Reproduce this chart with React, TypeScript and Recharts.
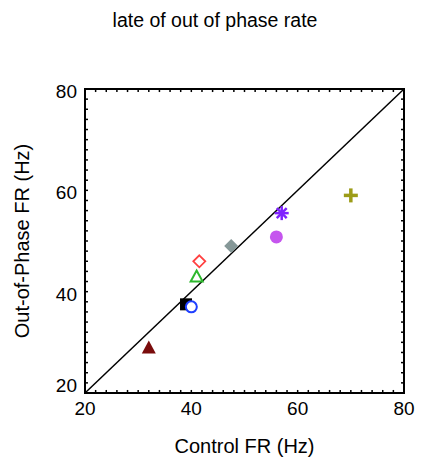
import React from "react";
import {
  ScatterChart,
  Scatter,
  XAxis,
  YAxis,
  ReferenceLine,
  ReferenceArea,
  Label,
} from "recharts";

const titleText = "late of out of phase rate";
const xLabelText = "Control FR (Hz)";
const yLabelText = "Out-of-Phase FR (Hz)";

const majorTicks = [20, 40, 60, 80];
const minorTicks = [22, 24, 26, 28, 30, 32, 34, 36, 38, 40, 42, 44, 46, 48, 50, 52, 54, 56, 58, 60, 62, 64, 66, 68, 70, 72, 74, 76, 78];

const redFilledTriangle = [{ x: 32, y: 29 }];
const blackSquare = [{ x: 39, y: 37.5 }];
const blueOpenCircle = [{ x: 40, y: 37 }];
const greenOpenTriangle = [{ x: 41, y: 43 }];
const redOpenDiamond = [{ x: 41.5, y: 46 }];
const greyDiamond = [{ x: 47.5, y: 49 }];
const purpleAsterisk = [{ x: 57, y: 55.5 }];
const violetCircle = [{ x: 56, y: 50.8 }];
const olivePlus = [{ x: 70, y: 59 }];

const FONT = "'Liberation Sans', Arial, sans-serif";
const LO = 20;
const HI = 80;
const TX = 0.56; // tick length in x units (~3px)
const TY = 0.6; // tick length in y units (~3px)

const BottomTick = (props: any) => {
  const { x, payload } = props;
  return (
    <text x={x} y={415} textAnchor="middle" fontSize={19} fontFamily={FONT} fill="#000">
      {payload.value}
    </text>
  );
};

const LeftTick = (props: any) => {
  const { y, payload } = props;
  const v = payload.value;
  return (
    <text x={77} y={v === 20 ? y - 1 : y + 9} textAnchor="end" fontSize={19} fontFamily={FONT} fill="#000">
      {v}
    </text>
  );
};

const FilledTriangle = (color: string) => (p: any) => {
  const { cx, cy } = p;
  return <polygon points={`${cx},${cy - 7} ${cx - 7},${cy + 6} ${cx + 7},${cy + 6}`} fill={color} />;
};
const OpenTriangle = (color: string) => (p: any) => {
  const { cx, cy } = p;
  return <polygon points={`${cx},${cy - 6} ${cx - 6},${cy + 5} ${cx + 6},${cy + 5}`} fill="none" stroke={color} strokeWidth={2} />;
};
const Square = (color: string) => (p: any) => {
  const { cx, cy } = p;
  return <rect x={cx - 6} y={cy - 6} width={12} height={12} fill={color} />;
};
const OpenCircle = (color: string) => (p: any) => {
  const { cx, cy } = p;
  return <circle cx={cx} cy={cy} r={5.5} fill="#fff" stroke={color} strokeWidth={2} />;
};
const FilledCircle = (color: string) => (p: any) => {
  const { cx, cy } = p;
  return <circle cx={cx} cy={cy} r={6.5} fill={color} />;
};
const OpenDiamond = (color: string) => (p: any) => {
  const { cx, cy } = p;
  return <polygon points={`${cx},${cy - 6} ${cx + 6},${cy} ${cx},${cy + 6} ${cx - 6},${cy}`} fill="none" stroke={color} strokeWidth={1.8} />;
};
const FilledDiamond = (color: string) => (p: any) => {
  const { cx, cy } = p;
  return <polygon points={`${cx},${cy - 7} ${cx + 7},${cy} ${cx},${cy + 7} ${cx - 7},${cy}`} fill={color} />;
};
const Asterisk = (color: string) => (p: any) => {
  const { cx, cy } = p;
  const r = 7;
  const lines = [0, 45, 90, 135].map((a) => {
    const rad = (a * Math.PI) / 180;
    return (
      <line
        key={a}
        x1={cx - r * Math.cos(rad)}
        y1={cy - r * Math.sin(rad)}
        x2={cx + r * Math.cos(rad)}
        y2={cy + r * Math.sin(rad)}
        stroke={color}
        strokeWidth={2.5}
      />
    );
  });
  return <g>{lines}</g>;
};
const Plus = (color: string) => (p: any) => {
  const { cx, cy } = p;
  return (
    <g>
      <line x1={cx - 7} x2={cx + 7} y1={cy} y2={cy} stroke={color} strokeWidth={3.5} />
      <line x1={cx} x2={cx} y1={cy - 7} y2={cy + 7} stroke={color} strokeWidth={3.5} />
    </g>
  );
};

export default function App() {
  const tickSegs: any[] = [];
  minorTicks.forEach((v) => {
    tickSegs.push([{ x: v, y: LO }, { x: v, y: LO + TY }]);
    tickSegs.push([{ x: v, y: HI }, { x: v, y: HI - TY }]);
    tickSegs.push([{ x: LO, y: v }, { x: LO + TX, y: v }]);
    tickSegs.push([{ x: HI, y: v }, { x: HI - TX, y: v }]);
  });
  return (
    <div style={{ position: "absolute", left: 0, top: 0, width: 422, height: 461, background: "#fff" }}>
      <div
        style={{
          position: "absolute",
          left: 0,
          top: 9,
          width: 430,
          textAlign: "center",
          fontFamily: FONT,
          fontSize: 19.5,
          color: "#000",
        }}
      >
        {titleText}
      </div>
      <ScatterChart width={422} height={461} margin={{ top: 89, right: 18, bottom: 38, left: 40 }}>
        <XAxis
          type="number"
          dataKey="x"
          domain={[LO, HI]}
          ticks={majorTicks}
          interval={0}
          tickLine={false}
          height={30}
          tick={<BottomTick />}
          axisLine={false}
          allowDataOverflow
        >
          <Label
            content={(lp: any) => {
              const vb = lp.viewBox;
              return (
                <text x={vb.x + vb.width / 2} y={453} textAnchor="middle" fontSize={20} fontFamily={FONT} fill="#000">
                  {xLabelText}
                </text>
              );
            }}
          />
        </XAxis>
        <YAxis
          type="number"
          dataKey="y"
          domain={[LO, HI]}
          ticks={majorTicks}
          interval={0}
          tickLine={false}
          width={45}
          tick={<LeftTick />}
          axisLine={false}
          allowDataOverflow
        >
          <Label
            content={(lp: any) => {
              const vb = lp.viewBox;
              const cx = 22;
              const cy = vb.y + vb.height / 2;
              return (
                <text
                  x={cx}
                  y={cy}
                  transform={`rotate(-90, ${cx}, ${cy})`}
                  textAnchor="middle"
                  dominantBaseline="central"
                  fontSize={20}
                  fontFamily={FONT}
                  fill="#000"
                >
                  {yLabelText}
                </text>
              );
            }}
          />
        </YAxis>
        <ReferenceArea x1={LO} x2={HI} y1={LO} y2={HI} fill="none" fillOpacity={0} stroke="#000" strokeWidth={2} ifOverflow="visible" />
        {tickSegs.map((s, i) => (
          <ReferenceLine key={i} segment={s} stroke="#000" strokeWidth={1.5} ifOverflow="visible" />
        ))}
        <ReferenceLine
          segment={[
            { x: LO, y: LO },
            { x: HI, y: HI },
          ]}
          stroke="#000"
          strokeWidth={1.5}
          ifOverflow="visible"
        />
        <Scatter data={redFilledTriangle} shape={FilledTriangle("#7a0c0c")} isAnimationActive={false} />
        <Scatter data={blackSquare} shape={Square("#000")} isAnimationActive={false} />
        <Scatter data={blueOpenCircle} shape={OpenCircle("#1f3fff")} isAnimationActive={false} />
        <Scatter data={greenOpenTriangle} shape={OpenTriangle("#2db82d")} isAnimationActive={false} />
        <Scatter data={redOpenDiamond} shape={OpenDiamond("#ff4040")} isAnimationActive={false} />
        <Scatter data={greyDiamond} shape={FilledDiamond("#869898")} isAnimationActive={false} />
        <Scatter data={violetCircle} shape={FilledCircle("#c555ee")} isAnimationActive={false} />
        <Scatter data={purpleAsterisk} shape={Asterisk("#7f22ff")} isAnimationActive={false} />
        <Scatter data={olivePlus} shape={Plus("#9c9c18")} isAnimationActive={false} />
      </ScatterChart>
    </div>
  );
}
